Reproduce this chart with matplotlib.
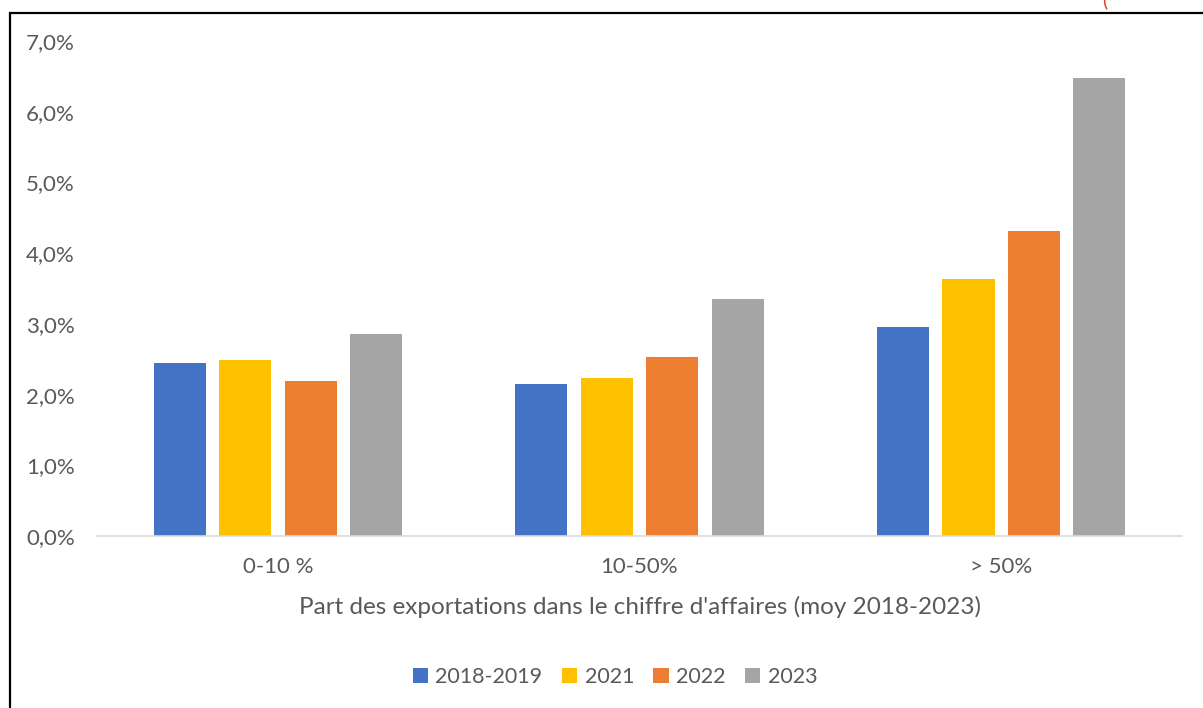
import numpy as np
import matplotlib
matplotlib.use("Agg")
import matplotlib.pyplot as plt
from matplotlib.patches import Rectangle
from matplotlib.ticker import FuncFormatter

# Data
categories = ["0-10 %", "10-50%", "> 50%"]
series_names = ["2018-2019", "2021", "2022", "2023"]
v_2018_2019 = [2.45, 2.15, 2.96]
v_2021 = [2.49, 2.23, 3.63]
v_2022 = [2.19, 2.53, 4.31]
v_2023 = [2.86, 3.35, 6.48]
colors = ["#4472C4", "#FFC000", "#ED7D31", "#A5A5A5"]

plt.rcParams["font.family"] = ["Lato", "DejaVu Sans"]
text_color = "#595959"

fig = plt.figure(figsize=(12.03, 7.08), dpi=100)
ax = fig.add_axes([0.0806, 0.2429, 0.902, 0.699])

x = np.arange(len(categories))
step = 0.181
width = 0.144
for i, (name, vals) in enumerate(zip(series_names, [v_2018_2019, v_2021, v_2022, v_2023])):
    ax.bar(x + (i - 1.5) * step, vals, width, color=colors[i], label=name)

ax.set_xlim(-0.5, 2.5)
ax.set_ylim(0, 7)
ax.set_yticks(np.arange(0, 8, 1))
ax.yaxis.set_major_formatter(FuncFormatter(lambda v, p: f"{v:.1f}%".replace(".", ",")))
ax.set_xticks(x)
ax.set_xticklabels(categories)
ax.tick_params(axis="both", length=0, labelsize=16, labelcolor=text_color)
ax.tick_params(axis="x", pad=15)
ax.tick_params(axis="y", pad=16)
for side in ["top", "right", "left"]:
    ax.spines[side].set_visible(False)
ax.spines["bottom"].set_color("#D9D9D9")
ax.spines["bottom"].set_linewidth(1.2)

ax.set_xlabel("Part des exportations dans le chiffre d'affaires (moy 2018-2023)",
              fontsize=17.5, color=text_color, labelpad=14)

fig.legend(loc="center", bbox_to_anchor=(615 / 1203, 1 - 677 / 708), ncol=4,
           frameon=False, fontsize=15.5, labelcolor=text_color,
           handlelength=0.7, handleheight=0.7, handletextpad=0.35, columnspacing=0.9)

# outer frame (partially cropped like the source)
fig.patches.append(Rectangle((10 / 1203, -0.1), 1.2, 1.1 - 13 / 708, transform=fig.transFigure,
                             fill=False, edgecolor="black", linewidth=1.6))
fig.text(1105 / 1203, 1.0, "(", color="#E04020", fontsize=14, ha="center", va="center")

fig.savefig("out.png", dpi=100)
